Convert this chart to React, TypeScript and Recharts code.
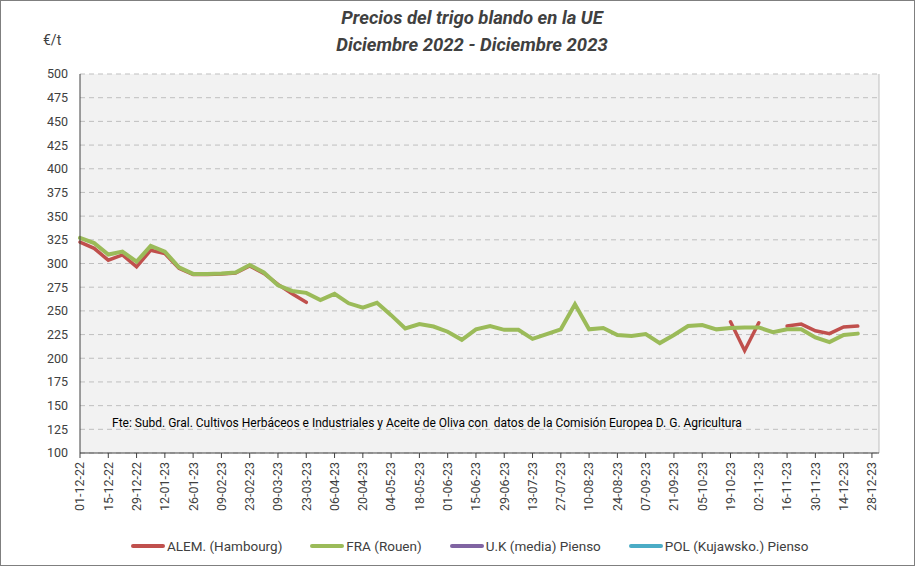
import React from 'react';
import { LineChart, Line, XAxis, YAxis, CartesianGrid, Legend, ReferenceLine } from 'recharts';

// tick labels every two weeks (index = week number from 01-12-22)
const tickLabels = [
    '01-12-22', '15-12-22', '29-12-22', '12-01-23', '26-01-23', '09-02-23', '23-02-23', '09-03-23',
    '23-03-23', '06-04-23', '20-04-23', '04-05-23', '18-05-23', '01-06-23', '15-06-23', '29-06-23',
    '13-07-23', '27-07-23', '10-08-23', '24-08-23', '07-09-23', '21-09-23', '05-10-23', '19-10-23',
    '02-11-23', '16-11-23', '30-11-23', '14-12-23', '28-12-23'
];
const xTicks = [0, 2, 4, 6, 8, 10, 12, 14, 16, 18, 20, 22, 24, 26, 28, 30, 32, 34, 36, 38, 40, 42, 44, 46, 48, 50, 52, 54, 56];
const yTicks = [100, 125, 150, 175, 200, 225, 250, 275, 300, 325, 350, 375, 400, 425, 450, 475, 500];
const seriesNames = ['ALEM. (Hambourg)', 'FRA (Rouen)', 'U.K (media) Pienso', 'POL (Kujawsko.) Pienso'];

// weekly prices, €/t
const fraRouen = [
    327, 321.5, 309.5, 312.5, 302, 318.5, 312.5, 296, 289, 289,
    289.5, 290.5, 298.5, 290.5, 277, 271, 269, 261.5, 268, 258,
    253.5, 258.5, 245.5, 231.5, 236, 233.5, 228, 219.5, 230.5, 234,
    230, 230, 220.5, 225.5, 230.5, 257, 230.5, 232, 224.5, 223.5,
    225.5, 216, 224.5, 234, 235, 230.5, 232, 232.5, 232.5, 227.5,
    230.5, 230.5, 222, 217, 224.5, 226
];
const alemHambourg = [
    322.5, 316, 303.5, 309, 296.5, 314, 310.5, 295, 288.5, 288.5,
    289, 290, 297.5, 289.5, 278, 268, 259, null, null, null,
    null, null, null, null, null, null, null, null, null, null,
    null, null, null, null, null, null, null, null, null, null,
    null, null, null, null, null, null, 238.5, 208, 237.5, null,
    234, 236, 229, 226, 233, 234
];

const data = fraRouen.map((v, i) => ({ week: i, fra: v, alem: alemHambourg[i] }));

const textColor = '#404040';
const font = 'Roboto, sans-serif';

function XTick(props: any) {
    const { x, y, payload } = props;
    return (
        <text
            x={x}
            y={y}
            transform={`rotate(-90, ${x}, ${y})`}
            textAnchor="end"
            dy="0.35em"
            fill={textColor}
            fontSize={12.5}
            fontFamily={font}
        >
            {tickLabels[payload.value / 2]}
        </text>
    );
}

function LegendContent(props: any) {
    const payload = [...(props.payload || [])].sort(
        (a: any, b: any) => seriesNames.indexOf(a.value) - seriesNames.indexOf(b.value)
    );
    return (
        <div style={{ display: 'flex', alignItems: 'center', height: 40, paddingLeft: 131, fontFamily: font, fontSize: 13.5, color: textColor }}>
            {payload.map((entry: any) => (
                <div key={entry.value} style={{ display: 'flex', alignItems: 'center', marginRight: 28 }}>
                    <span style={{ display: 'inline-block', width: 34, height: 4, borderRadius: 2, background: entry.color }} />
                    <span style={{ marginLeft: 2 }}>{entry.value}</span>
                </div>
            ))}
        </div>
    );
}

export default function App() {
    return (
        <div style={{ position: 'absolute', top: 0, left: 0, width: 915, height: 566, background: '#fff' }}>
            <div style={{ position: 'absolute', left: 0, top: 0, width: 913, height: 564, border: '1px solid #7f7f7f' }} />
            <div style={{
                position: 'absolute', left: 0, top: 5, width: 944, textAlign: 'center',
                fontFamily: font, fontStyle: 'italic', fontWeight: 'bold', fontSize: 18.5, lineHeight: '27px', color: textColor
            }}>
                <div>Precios del trigo blando en la UE</div>
                <div>Diciembre 2022 - Diciembre 2023</div>
            </div>
            <div style={{ position: 'absolute', left: 43, top: 32, fontFamily: font, fontSize: 14, color: textColor }}>€/t</div>
            <LineChart width={915} height={566} data={data} margin={{ top: 74, right: 36, left: 0, bottom: 0 }}>
                <CartesianGrid vertical={false} fill="#f2f2f2" stroke="#bfbfbf" strokeDasharray="5 4" />
                <XAxis
                    dataKey="week"
                    type="number"
                    domain={[0, 56.5]}
                    ticks={xTicks}
                    interval={0}
                    height={73}
                    tick={<XTick />}
                    tickSize={5}
                    tickMargin={4}
                    axisLine={{ stroke: textColor }}
                    tickLine={{ stroke: textColor }}
                />
                <YAxis
                    type="number"
                    domain={[100, 500]}
                    ticks={yTicks}
                    interval={0}
                    width={80}
                    tickSize={6}
                    tickMargin={6}
                    tickLine={false}
                    axisLine={{ stroke: textColor }}
                    tick={{ fill: textColor, fontSize: 12.5, fontFamily: font }}
                />
                <ReferenceLine x={56.5} stroke="#bfbfbf" />
                <Legend verticalAlign="bottom" wrapperStyle={{ left: 0, width: 915 }} content={<LegendContent />} />
                <Line name="ALEM. (Hambourg)" dataKey="alem" stroke="#c0504d" strokeWidth={3.5} strokeLinecap="round" dot={false} isAnimationActive={false} />
                <Line name="FRA (Rouen)" dataKey="fra" stroke="#9bbb59" strokeWidth={4} strokeLinecap="round" dot={false} isAnimationActive={false} />
                <Line name="U.K (media) Pienso" dataKey="uk" stroke="#8064a2" strokeWidth={4} dot={false} isAnimationActive={false} />
                <Line name="POL (Kujawsko.) Pienso" dataKey="pol" stroke="#4bacc6" strokeWidth={4} dot={false} isAnimationActive={false} />
            </LineChart>
            <div style={{ position: 'absolute', left: 112, top: 416, fontFamily: font, fontSize: 12, color: '#000', whiteSpace: 'pre' }}>
                Fte: Subd. Gral. Cultivos Herbáceos e Industriales y Aceite de Oliva con  datos de la Comisión Europea D. G. Agricultura
            </div>
        </div>
    );
}
